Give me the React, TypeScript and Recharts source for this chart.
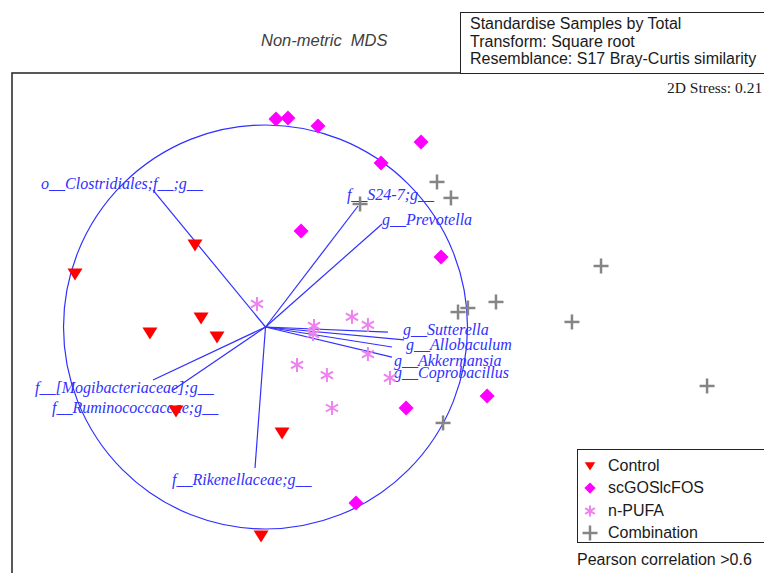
import React from "react";
import {
  ScatterChart,
  Scatter,
  XAxis,
  YAxis,
  ReferenceLine,
  ReferenceDot,
  ReferenceArea,
} from "recharts";

// nMDS scores, one list per treatment group ([MDS1, MDS2])
const control: [number, number][] = [
  [-0.349, 0.406],
  [-0.943, 0.262],
  [-0.572, -0.03],
  [-0.319, 0.045],
  [-0.24, -0.05],
  [-0.443, -0.416],
  [0.082, -0.525],
  [-0.022, -1.035],
];

const scGOSlcFOS: [number, number][] = [
  [0.052, 1.03],
  [0.111, 1.035],
  [0.26, 0.995],
  [0.77, 0.916],
  [0.572, 0.812],
  [0.176, 0.475],
  [0.869, 0.347],
  [0.696, -0.401],
  [1.097, -0.342],
  [0.448, -0.871],
];

const nPUFA: [number, number][] = [
  [-0.042, 0.114],
  [0.24, 0.005],
  [0.235, -0.035],
  [0.428, 0.05],
  [0.507, 0.01],
  [0.507, -0.134],
  [0.156, -0.188],
  [0.304, -0.238],
  [0.616, -0.252],
  [0.329, -0.401],
];

const combination: [number, number][] = [
  [0.849, 0.718],
  [0.918, 0.639],
  [0.468, 0.609],
  [1.661, 0.302],
  [1.141, 0.124],
  [1.002, 0.094],
  [0.953, 0.074],
  [1.517, 0.025],
  [2.186, -0.292],
  [0.879, -0.475],
];

// taxa with Pearson r > 0.6, vector ends and label anchors
const taxa = [
  "o__Clostridiales;f__;g__",
  "f__S24-7;g__",
  "g__Prevotella",
  "g__Sutterella",
  "g__Allobaculum",
  "g__Akkermansia",
  "g__Coprobacillus",
  "f__[Mogibacteriaceae];g__",
  "f__Ruminococcaceae;g__",
  "f__Rikenellaceae;g__",
];
const vecX = [-0.557, 0.458, 0.577, 0.606, 0.686, 0.626, 0.626, -0.557, -0.458, -0.052];
const vecY = [0.678, 0.599, 0.51, -0.025, -0.064, -0.099, -0.149, -0.262, -0.312, -0.698];
const labelX = [-1.111, 0.403, 0.577, 0.681, 0.696, 0.636, 0.636, -1.141, -1.057, -0.463];
const labelY = [0.683, 0.629, 0.505, -0.04, -0.114, -0.193, -0.252, -0.327, -0.426, -0.782];

const X_DOMAIN: [number, number] = [-1.255, 2.646];
const Y_DOMAIN: [number, number] = [-1.4505, 1.2574];

const CHART_W = 800;
const CHART_H = 620;
const MARGIN = { top: 73, left: 12, right: 0, bottom: 0 };
// pixels per ordination unit -> radius of the unit correlation circle
const UNIT_PX = (CHART_W - MARGIN.left - MARGIN.right) / (X_DOMAIN[1] - X_DOMAIN[0]);

const BLUE = "#3030ff";
const SANS = "'Liberation Sans', Arial, sans-serif";
const SERIF = "'Liberation Serif', 'Times New Roman', serif";

const toPoints = (arr: [number, number][]) => arr.map(([x, y]) => ({ x, y }));

const Triangle = ({ cx, cy, s = 1 }: any) => (
  <polygon
    points={`${cx - 7.5 * s},${cy - 5.5 * s} ${cx + 7.5 * s},${cy - 5.5 * s} ${cx},${cy + 6.5 * s}`}
    fill="#ff0000"
  />
);

const Diamond = ({ cx, cy, s = 1 }: any) => (
  <polygon
    points={`${cx},${cy - 7.5 * s} ${cx + 7.5 * s},${cy} ${cx},${cy + 7.5 * s} ${cx - 7.5 * s},${cy}`}
    fill="#ff00ff"
  />
);

const Asterisk = ({ cx, cy, s = 1 }: any) => {
  const r = 7 * s;
  const dx = r * 0.866;
  const dy = r * 0.5;
  return (
    <g stroke="#ee82ee" strokeWidth={2}>
      <line x1={cx} y1={cy - r} x2={cx} y2={cy + r} />
      <line x1={cx - dx} y1={cy - dy} x2={cx + dx} y2={cy + dy} />
      <line x1={cx - dx} y1={cy + dy} x2={cx + dx} y2={cy - dy} />
    </g>
  );
};

const Plus = ({ cx, cy, s = 1 }: any) => {
  const r = 7.5 * s;
  return (
    <g stroke="#858585" strokeWidth={2.5}>
      <line x1={cx - r} y1={cy} x2={cx + r} y2={cy} />
      <line x1={cx} y1={cy - r} x2={cx} y2={cy + r} />
    </g>
  );
};

const TaxonLabel = ({ cx, cy, payload }: any) => (
  <text
    x={cx}
    y={cy}
    fill={BLUE}
    fontFamily={SERIF}
    fontStyle="italic"
    fontSize={16}
  >
    {payload.name}
  </text>
);

const groups = [
  { name: "Control", Mark: Triangle, s: 0.7 },
  { name: "scGOSlcFOS", Mark: Diamond, s: 0.75 },
  { name: "n-PUFA", Mark: Asterisk, s: 0.8 },
  { name: "Combination", Mark: Plus, s: 1 },
];

const GroupLegend = () => (
  <div
    style={{
      position: "absolute",
      left: 577,
      top: 449,
      width: 200,
      height: 94,
      border: "1.5px solid #222",
      background: "#fff",
      fontFamily: SANS,
      fontSize: 16,
      color: "#1a1a1a",
      boxSizing: "border-box",
      paddingTop: 5,
    }}
  >
    {groups.map(({ name, Mark, s }) => (
      <div key={name} style={{ display: "flex", alignItems: "center", height: 22.3 }}>
        <svg width={30} height={22} style={{ flex: "none" }}>
          <Mark cx={12} cy={11} s={s} />
        </svg>
        <span>{name}</span>
      </div>
    ))}
  </div>
);

export default function App() {
  const vectors = taxa.map((name, i) => ({ name, x: vecX[i], y: vecY[i] }));
  const labels = taxa.map((name, i) => ({ name, x: labelX[i], y: labelY[i] }));

  return (
    <div
      style={{
        position: "fixed",
        left: 0,
        top: 0,
        width: 764,
        height: 573,
        overflow: "hidden",
        background: "#fff",
      }}
    >
      <ScatterChart width={CHART_W} height={CHART_H} margin={MARGIN}>
        <XAxis type="number" dataKey="x" domain={X_DOMAIN} allowDataOverflow hide />
        <YAxis type="number" dataKey="y" domain={Y_DOMAIN} allowDataOverflow hide />
        <ReferenceArea
          x1={X_DOMAIN[0]}
          x2={X_DOMAIN[1]}
          y1={Y_DOMAIN[0]}
          y2={Y_DOMAIN[1]}
          fill="none"
          stroke="#222"
          strokeWidth={1.5}
          ifOverflow="visible"
        />
        <ReferenceDot
          x={0}
          y={0}
          r={UNIT_PX}
          fill="none"
          stroke={BLUE}
          strokeWidth={1.2}
          ifOverflow="visible"
        />
        {vectors.map((v) => (
          <ReferenceLine
            key={v.name}
            segment={[
              { x: 0, y: 0 },
              { x: v.x, y: v.y },
            ]}
            stroke={BLUE}
            strokeWidth={1.2}
            ifOverflow="visible"
          />
        ))}
        <Scatter
          name="labels"
          data={labels}
          shape={<TaxonLabel />}
          legendType="none"
          isAnimationActive={false}
        />
        <Scatter name="Control" data={toPoints(control)} shape={<Triangle />} isAnimationActive={false} />
        <Scatter name="scGOSlcFOS" data={toPoints(scGOSlcFOS)} shape={<Diamond />} isAnimationActive={false} />
        <Scatter name="n-PUFA" data={toPoints(nPUFA)} shape={<Asterisk />} isAnimationActive={false} />
        <Scatter name="Combination" data={toPoints(combination)} shape={<Plus />} isAnimationActive={false} />
      </ScatterChart>

      <GroupLegend />

      <div
        style={{
          position: "absolute",
          left: 261,
          top: 30,
          fontFamily: SANS,
          fontStyle: "italic",
          fontSize: 16.5,
          color: "#404040",
          whiteSpace: "pre",
          lineHeight: "20px",
        }}
      >
        {"Non-metric  MDS"}
      </div>

      <div
        style={{
          position: "absolute",
          left: 460,
          top: 12,
          width: 330,
          height: 62,
          border: "1.5px solid #222",
          boxSizing: "border-box",
          background: "#fff",
          fontFamily: SANS,
          fontSize: 16,
          lineHeight: "17.5px",
          color: "#1a1a1a",
          padding: "2px 0 0 9px",
          whiteSpace: "nowrap",
        }}
      >
        <div>Standardise Samples by Total</div>
        <div>Transform: Square root</div>
        <div>Resemblance: S17 Bray-Curtis similarity</div>
      </div>

      <div
        style={{
          position: "absolute",
          left: 667,
          top: 79,
          fontFamily: SERIF,
          fontSize: 15.5,
          lineHeight: "18px",
          color: "#1a1a1a",
          whiteSpace: "nowrap",
        }}
      >
        2D Stress: 0.21
      </div>

      <div
        style={{
          position: "absolute",
          left: 577,
          top: 550,
          fontFamily: SANS,
          fontSize: 16,
          lineHeight: "20px",
          color: "#1a1a1a",
          whiteSpace: "nowrap",
        }}
      >
        Pearson correlation &gt;0.6
      </div>
    </div>
  );
}
